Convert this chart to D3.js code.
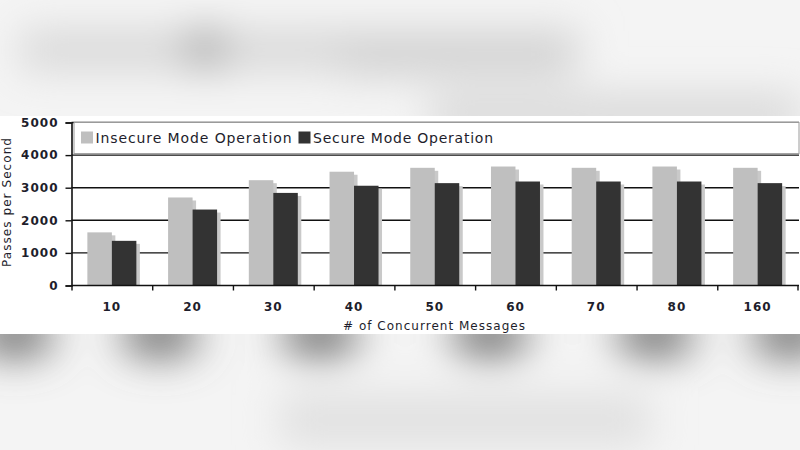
<!DOCTYPE html>
<html>
<head>
<meta charset="utf-8">
<script src="https://cdn.jsdelivr.net/npm/d3@7"></script>
<style>
  body { margin: 0; background: #f2f2f2; }
  svg { display: block; font-family: "DejaVu Sans", Verdana, sans-serif; }
</style>
</head>
<body>
<div id="chart"></div>
<script>
const categories = ['10', '20', '30', '40', '50', '60', '70', '80', '160'];
const seriesNames = ['Insecure Mode Operation', 'Secure Mode Operation'];
const insecure = [1630, 2700, 3230, 3490, 3610, 3650, 3610, 3650, 3610];
const secure = [1370, 2330, 2840, 3060, 3140, 3190, 3190, 3190, 3140];
const yTicks = [0, 1000, 2000, 3000, 4000, 5000];

const W = 800, H = 450;
const plot = {left: 71.5, right: 798, top: 122.5, bottom: 285.5};
const colors = ['#bfbfbf', '#333333'];
const shadow = '#c9c9c9';
const textColor = '#1e1e2c';

const svg = d3.select('#chart').append('svg')
    .attr('width', W)
    .attr('height', H);

// blurred letterbox background
const defs = svg.append('defs');
defs.append('filter').attr('id', 'blur')
    .attr('filterUnits', 'userSpaceOnUse')
    .attr('x', -100).attr('y', -100).attr('width', W + 200).attr('height', H + 200)
    .append('feGaussianBlur').attr('stdDeviation', 20);

const bg = svg.append('g');
bg.append('rect').attr('width', W).attr('height', H).attr('fill', '#f4f4f4');
const blobs = bg.append('g').attr('filter', 'url(#blur)');
blobs.append('rect').attr('x', 20).attr('y', 30).attr('width', 560).attr('height', 40).attr('fill', '#d8d8d8');
blobs.append('ellipse').attr('cx', 205).attr('cy', 48).attr('rx', 22).attr('ry', 20).attr('fill', '#a8a8a8');
blobs.append('rect').attr('x', 340).attr('y', 40).attr('width', 230).attr('height', 35).attr('fill', '#d0d0d0');
blobs.append('rect').attr('x', 430).attr('y', 95).attr('width', 370).attr('height', 40).attr('fill', '#d8d8d8');
[15, 160, 320, 490, 655, 790].forEach(cx => {
  blobs.append('ellipse').attr('cx', cx).attr('cy', 335).attr('rx', 40).attr('ry', 22).attr('fill', '#6e6e6e');
});
blobs.append('rect').attr('x', 280).attr('y', 395).attr('width', 370).attr('height', 50).attr('fill', '#e0e0e0');

// white chart panel
svg.append('rect')
    .attr('x', 0).attr('y', 116)
    .attr('width', W).attr('height', 218)
    .attr('fill', '#fff');

const x = d3.scaleBand()
    .domain(categories)
    .range([plot.left, plot.right])
    .padding(0);

const x1 = d3.scaleBand()
    .domain(seriesNames)
    .range([-24.5, 24.5]);

const y = d3.scaleLinear()
    .domain([0, 5000])
    .range([plot.bottom, plot.top]);

// gridlines
svg.append('g')
    .selectAll('line')
    .data(yTicks.filter(d => d > 0))
    .join('line')
    .attr('x1', plot.left)
    .attr('x2', plot.right + 1)
    .attr('y1', d => y(d))
    .attr('y2', d => y(d))
    .attr('stroke', '#111')
    .attr('stroke-width', 1.4);

// legend box sits in the top band of the plot
const legend = svg.append('g');
legend.append('rect')
    .attr('x', 74).attr('y', y(5000))
    .attr('width', plot.right + 1 - 74)
    .attr('height', y(4000) - y(5000) - 1.5)
    .attr('fill', '#fff')
    .attr('stroke', '#9a9a9a')
    .attr('stroke-width', 1);

const legendItems = [
  {sx: 81, tx: 95.5, len: 196},
  {sx: 298.5, tx: 313, len: 180}
];
seriesNames.forEach((name, i) => {
  const it = legendItems[i];
  legend.append('rect')
      .attr('x', it.sx).attr('y', 131.5)
      .attr('width', 12).attr('height', 12)
      .attr('fill', colors[i]);
  legend.append('text')
      .attr('x', it.tx).attr('y', 142.7)
      .attr('font-size', 14)
      .attr('fill', textColor)
      .attr('textLength', it.len)
      .attr('lengthAdjust', 'spacing')
      .text(name);
});

// bars with drop shadows
const rows = categories.map((c, i) => ({cat: c, vals: [insecure[i], secure[i]]}));
const groups = svg.append('g')
    .selectAll('g')
    .data(rows)
    .join('g')
    .attr('transform', d => `translate(${x(d.cat) + x.bandwidth() / 2}, 0)`);

seriesNames.forEach((name, si) => {
  groups.append('rect')
      .attr('x', x1(name) + 3.5)
      .attr('y', d => y(d.vals[si]) + 3)
      .attr('width', x1.bandwidth())
      .attr('height', d => plot.bottom - y(d.vals[si]) - 3)
      .attr('fill', shadow);
  groups.append('rect')
      .attr('x', x1(name))
      .attr('y', d => y(d.vals[si]))
      .attr('width', x1.bandwidth())
      .attr('height', d => plot.bottom - y(d.vals[si]))
      .attr('fill', colors[si]);
});

// axes
const yAxis = svg.append('g')
    .attr('transform', `translate(${plot.left}, 0)`)
    .call(d3.axisLeft(y).tickValues(yTicks).tickSize(6).tickPadding(7).tickFormat(d3.format('d')));

const xAxis = svg.append('g')
    .attr('transform', `translate(0, ${plot.bottom})`)
    .call(d3.axisBottom(x).tickSize(0).tickPadding(17));

// x tick marks sit on band boundaries
xAxis.append('g')
    .selectAll('line')
    .data(categories)
    .join('line')
    .attr('x1', d => x(d) + 0.5)
    .attr('x2', d => x(d) + 0.5)
    .attr('y1', 0)
    .attr('y2', 5)
    .attr('stroke', '#111')
    .attr('stroke-width', 1.4);
xAxis.append('line')
    .attr('x1', plot.right).attr('x2', plot.right)
    .attr('y1', 0).attr('y2', 5)
    .attr('stroke', '#111').attr('stroke-width', 1.4);

[yAxis, xAxis].forEach(a => {
  a.select('.domain').attr('stroke', '#111').attr('stroke-width', 1.6);
  a.selectAll('.tick line').attr('stroke', '#111').attr('stroke-width', 1.4);
  a.selectAll('.tick text')
      .attr('font-family', '"DejaVu Sans", Verdana, sans-serif')
      .attr('font-size', 12)
      .attr('font-weight', 'bold')
      .attr('letter-spacing', 1)
      .attr('fill', textColor);
});
xAxis.select('.domain').attr('d', `M${plot.left},0H${plot.right + 1}`);

// axis titles
svg.append('text')
    .attr('transform', `translate(10.5, 202.5) rotate(-90)`)
    .attr('text-anchor', 'middle')
    .attr('font-size', 12)
    .attr('fill', textColor)
    .attr('textLength', 129)
    .attr('lengthAdjust', 'spacing')
    .text('Passes per Second');

svg.append('text')
    .attr('x', 434)
    .attr('y', 330)
    .attr('text-anchor', 'middle')
    .attr('font-size', 12)
    .attr('fill', textColor)
    .attr('textLength', 182)
    .attr('lengthAdjust', 'spacing')
    .text('# of Concurrent Messages');
</script>
</body>
</html>
